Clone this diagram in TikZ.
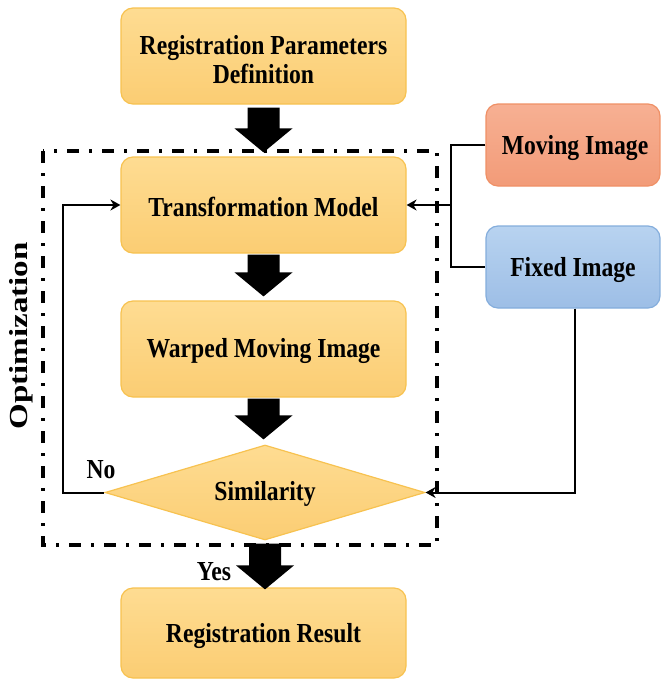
\documentclass[tikz,border=0pt]{standalone}
\usepackage{fontspec}
\setmainfont{Liberation Serif}[FakeStretch=0.86]
\newfontfamily\rotfont{Liberation Serif}
\usetikzlibrary{shapes.geometric,arrows.meta,calc}
\definecolor{boxtop}{HTML}{FEDC92}
\definecolor{boxbot}{HTML}{FBCD73}
\definecolor{boxline}{HTML}{F7C250}
\definecolor{movtop}{HTML}{F7B093}
\definecolor{movbot}{HTML}{F29B78}
\definecolor{movline}{HTML}{EF9066}
\definecolor{fixtop}{HTML}{B8D3F0}
\definecolor{fixbot}{HTML}{9DBEE6}
\definecolor{fixline}{HTML}{84ADDC}
\newcommand\blkarrow[2]{%
  \fill[black] let \p1=(#1), \p2=(#2) in
    (\x1-16pt,\y1) -- (\x1+16pt,\y1) -- (\x1+16pt,\y2+24pt) -- (\x1+29pt,\y2+24pt)
    -- (\x1,\y2) -- (\x1-29pt,\y2+24pt) -- (\x1-16pt,\y2+24pt) -- cycle;}
\begin{document}
\begin{tikzpicture}[x=1pt,y=-1pt,
  every node/.style={font=\fontsize{27.5}{29}\selectfont\bfseries, text=black},
  stepbox/.style={rounded corners=12pt, minimum width=285pt, minimum height=96pt,
    top color=boxtop, bottom color=boxbot, draw=boxline, line width=1.2pt, inner sep=0pt},
  movbox/.style={rounded corners=12pt, minimum width=174pt, minimum height=82pt,
    top color=movtop, bottom color=movbot, draw=movline, line width=1.2pt, inner sep=0pt},
  fixbox/.style={rounded corners=12pt, minimum width=174pt, minimum height=82pt,
    top color=fixtop, bottom color=fixbot, draw=fixline, line width=1.2pt, inner sep=0pt},
  simdiamond/.style={diamond, aspect=3.37, minimum width=320pt, minimum height=95pt, inner sep=0pt,
    top color=boxtop, bottom color=boxbot, draw=boxline, line width=1.2pt},
  thin conn/.style={draw=black, line width=2pt},
  optframe/.style={draw=black, line width=3.5pt, dash pattern=on 12pt off 10pt on 3pt off 10pt}
]
\useasboundingbox (0,0) rectangle (661,680);
% optimization frame
\draw[optframe] (43,151) rectangle (437,545);
\node[rotate=90, font=\rotfont\fontsize{26}{29}\selectfont\bfseries] (opt) at (21,336) {\scalebox{1.27}[1]{Optimization}};
% boxes
\node[stepbox] (def) at (263.5,56) {};
\node[stepbox] (tm) at (263.5,205) {};
\node[stepbox] (wm) at (263.5,349) {};
\node[simdiamond] (sim) at (265,492.5) {};
\node[stepbox, minimum height=90pt] (res) at (263.5,633) {};
\node[movbox] (mov) at (573,145) {};
\node[fixbox] (fix) at (573,267) {};
% texts
\node[align=center] (deft) at (263.5,60) {Registration Parameters\\Definition};
\node (tmt) at (263.5,207) {Transformation Model};
\node (wmt) at (263.5,351) {Warped Moving Image};
\node (simt) at (265,494) {Similarity};
\node (rest) at (263.5,636) {Registration Result};
\node (movt) at (575,148) {Moving Image};
\node (fixt) at (573,270) {Fixed Image};
% labels
\node (no) at (101,470) {No};
\node (yes) at (214,572) {Yes};
% block arrows
\blkarrow{$(def.south)+(0,3)$}{$(tm.north)+(0,-4)$}
\blkarrow{$(tm.south)+(0,1)$}{$(wm.north)+(0,-4)$}
\blkarrow{$(wm.south)+(0,1)$}{$(sim.north)+(0,-5)$}
\blkarrow{$(sim.south)+(0,3)$}{$(res.north)+(0,2)$}
% connectors
\coordinate (j) at (451,205);
\draw[thin conn] (mov.west) -- (mov.west -| j) -- (fix.west -| j) -- (fix.west);
\draw[thin conn, -{Stealth[length=10pt,width=11pt]}] (j) -- (tm.east);
\draw[thin conn, -{Stealth[length=10pt,width=11pt]}] ([xshift=2pt]fix.south) |- (sim.east);
\coordinate (l) at (63,205);
\draw[thin conn, -{Stealth[length=10pt,width=11pt]}] (sim.west) -| (l) -- (tm.west);
\end{tikzpicture}
\end{document}
